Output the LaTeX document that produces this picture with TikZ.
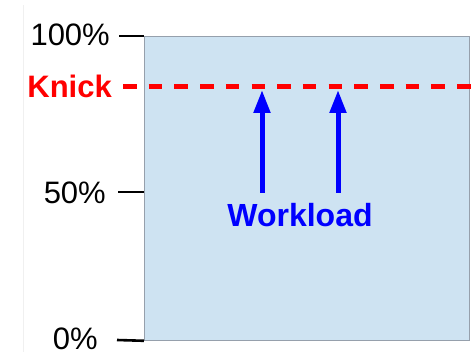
\documentclass[tikz,border=0pt]{standalone}
\usepackage{fontspec}
\setmainfont{Liberation Sans}
\usetikzlibrary{arrows.meta,positioning,calc}
\definecolor{panelblue}{RGB}{206,227,242}
\definecolor{panelline}{RGB}{150,160,172}

\begin{document}
\begin{tikzpicture}[x=1pt, y=-1pt, font=\fontsize{31}{36}\selectfont,
  lbl/.style={anchor=base east, inner sep=0pt},
  tick/.style={line width=2.6pt, black},
  push/.style={line width=5pt, blue, -{Triangle[length=23pt,width=16pt]}}]
  \useasboundingbox (0,0) rectangle (473,355);
  \draw[gray!12, line width=0.8pt] (23,5) -- (23,352);
  \node[draw=panelline, fill=panelblue, line width=0.8pt, anchor=north west, inner sep=0pt,
        minimum width=325pt, minimum height=304pt] (panel) at (144,36) {};
  % axis labels
  \node[lbl] (p100) at (110,46) {100\%};
  \node[lbl] (p50) at (106,204) {50\%};
  \node[lbl] (p0) at (98,349) {0\%};
  \node[lbl, red, font=\fontsize{31}{36}\selectfont\bfseries] (knick) at (112,98) {Knick};
  \draw[tick] (119,36) -- (panel.north west);
  \draw[tick] (118,192) -- (panel.west |- 0,192);
  \draw[tick] (117,340) -- (panel.south west);
  % knee line
  \coordinate (kL) at (123,87);
  \coordinate (kR) at (473,87);
  \draw[red, line width=5pt, dash pattern=on 13.5pt off 12.2pt] (kL) -- (kR);
  % workload arrows
  \node[anchor=base, inner sep=0pt, blue, font=\fontsize{32}{36}\selectfont\bfseries] (work) at (300,226) {Workload};
  \coordinate (w1) at (262,193);
  \coordinate (w2) at (338,193);
  \draw[push] (w1) -- (w1 |- 0,90);
  \draw[push] (w2) -- (w2 |- 0,90);
\end{tikzpicture}
\end{document}
